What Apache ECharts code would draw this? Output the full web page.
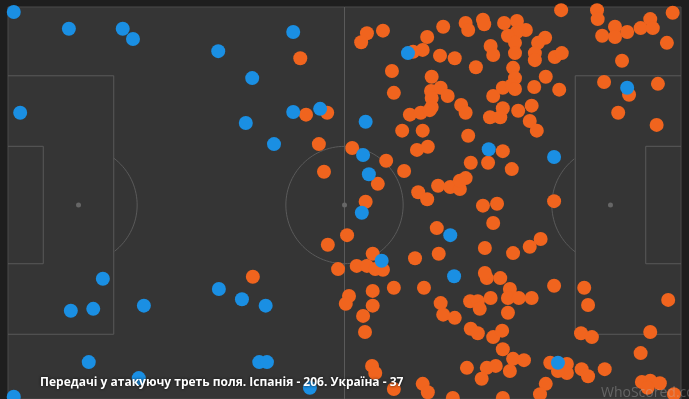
<!DOCTYPE html>
<html>
<head>
<meta charset="utf-8">
<script src="https://cdn.jsdelivr.net/npm/echarts@6/dist/echarts.min.js"></script>
<style>
  html, body { margin: 0; padding: 0; background: #1e1e1e; }
  #main { width: 689px; height: 399px; }
</style>
</head>
<body>
<div id="main"></div>
<script>
// координати у метрах, поле 105 x 68
const spainPasses = [
  [45.6,11.1],[46.5,19.9],[48.5,24.5],[49.3,28.8],[38.2,45.2],
  [56.0,7.2],[55.1,8.6],[58.5,6.8],[65.4,7.8],[67.9,6.2],[71.4,5.6],[71.8,6.7],[74.1,5.1],[74.3,5.8],[77.4,5.6],
  [75.3,9.2],[75.7,10.6],[64.7,9.8],[63.2,10.1],[67.4,10.7],[69.7,11.1],[73.0,12.5],[59.9,13.1],[66.1,14.0],
  [60.2,16.5],[66.0,16.2],[67.5,15.7],[68.6,17.0],[66.1,17.3],[66.1,18.7],[62.7,19.9],[64.4,19.6],[65.8,19.2],
  [70.7,18.4],[71.4,19.6],[75.7,17.0],[77.2,15.7],[77.2,18.9],[75.2,20.3],[76.8,20.3],[49.8,19.6],[61.5,22.4],
  [64.7,22.4],[71.8,23.2],
  [86.3,3.6],[91.9,3.6],[92.0,5.0],[103.7,4.0],[79.4,5.3],[80.8,6.7],[79.4,7.0],[78.0,7.6],[79.1,8.7],[79.1,10.3],
  [83.8,7.9],[82.7,8.7],[82.2,10.3],[82.2,11.4],[85.3,10.9],[86.4,10.3],[92.7,7.6],[94.7,6.2],[94.7,7.8],[96.6,7.0],
  [98.7,6.4],[100.2,5.0],[100.6,6.4],[102.8,8.7],[95.8,11.5],[78.8,12.6],[79.1,14.2],[78.6,15.3],[79.1,15.9],
  [83.9,14.0],[82.1,15.6],[86.0,16.0],[93.0,14.8],[96.9,16.8],[101.4,15.1],[95.2,19.6],[101.2,21.5],[81.7,18.5],
  [79.6,19.3],[81.4,20.9],[82.5,22.4],
  [53.7,25.1],[63.8,25.4],[65.5,24.9],[59.0,27.1],[61.8,28.7],[57.7,30.7],[72.2,27.4],[74.9,27.4],[77.2,25.6],
  [67.1,31.0],[69.0,31.2],[70.5,31.5],[70.5,30.2],[71.4,29.8],[64.0,32.0],[65.4,33.1],[55.8,33.5],[74.1,34.1],
  [76.3,33.8],[75.7,36.8],[66.9,37.6],[52.9,38.7],[49.9,40.2],[74.4,40.7],[67.2,41.6],[56.9,41.6],[63.5,42.3],
  [54.4,43.5],[56.0,43.5],[51.5,44.0],
  [78.6,28.4],[85.2,33.4],[78.8,41.5],[81.4,40.5],[83.1,39.3],
  [57.3,44.0],[58.5,44.1],[60.2,46.9],[64.9,46.9],[56.9,47.4],[53.2,48.2],[52.7,49.4],[56.9,49.7],[55.4,51.3],
  [55.7,53.8],[56.8,59.1],[57.3,60.2],[60.2,62.7],[67.5,49.3],[67.9,51.1],[69.7,51.6],[72.1,49.0],[73.3,49.0],
  [73.6,50.2],[75.3,48.5],[74.7,45.4],[74.4,44.6],[76.8,45.4],[72.2,53.3],[73.3,54.0],[75.7,54.6],[77.1,53.6],
  [71.6,59.4],[74.7,59.4],[76.1,59.1],[73.9,61.1],[64.7,61.9],[65.5,63.2],[69.4,64.1],[74.1,64.3],[77.2,64.1],
  [77.2,56.5],
  [78.3,47.1],[78.0,48.5],[79.7,48.5],[81.7,48.5],[85.2,46.6],[89.9,46.9],[90.5,49.6],[78.0,50.8],[89.4,54.0],
  [91.1,54.6],[103.0,48.8],[100.2,53.8],[98.7,57.1],[78.8,58.0],[80.5,58.2],[78.3,59.9],[84.6,58.6],[87.2,58.8],
  [87.2,60.2],[85.8,59.9],[89.5,59.6],[90.5,60.7],[93.1,59.6],[83.9,61.9],[83.0,63.5],[98.9,61.6],[100.2,61.4],
  [101.7,61.8],[99.8,62.5],[103.9,63.5]
];

const ukrainePasses = [
  [0.9,3.9],[9.5,6.5],[17.9,6.5],[19.5,8.1],[32.8,10.0],[44.5,7.0],[38.1,14.2],[1.9,19.6],[44.5,19.5],
  [48.7,19.0],[37.1,21.2],[41.5,24.5],[14.8,45.5],[9.8,50.5],[13.3,50.2],[21.2,49.7],[32.9,47.1],[36.5,48.7],
  [40.2,49.7],[12.6,58.5],[39.2,58.5],[40.4,58.5],[20.4,61.0],[0.9,63.9],[47.1,62.5],[62.4,10.3],[55.8,21.0],
  [55.4,26.2],[56.3,29.2],[55.2,35.2],[69.0,38.7],[75.0,25.3],[58.3,42.7],[85.2,26.5],[96.6,15.7],[69.6,45.1],
  [85.8,58.6]
];

const titleText = 'Передачі у атакуючу треть поля. Іспанія - 206. Україна - 37';

// розмітка поля
function arc(cx, cy, r, from, to) {
  const pts = [];
  for (let a = from; a <= to + 0.001; a += 3) {
    const t = a * Math.PI / 180;
    pts.push([cx + r * Math.cos(t), cy + r * Math.sin(t)]);
  }
  return pts;
}
const dAngle = Math.acos(5.5 / 9.15) * 180 / Math.PI;
const pitchLines = [
  [[52.5, 3.11], [52.5, 64.26]],
  [[0, 13.84], [16.5, 13.84], [16.5, 54.16], [0, 54.16]],
  [[0, 24.84], [5.5, 24.84], [5.5, 43.16], [0, 43.16]],
  [[105, 13.84], [88.5, 13.84], [88.5, 54.16], [105, 54.16]],
  [[105, 24.84], [99.5, 24.84], [99.5, 43.16], [105, 43.16]],
  arc(52.5, 34, 9.15, 0, 360),
  arc(11, 34, 9.15, -dAngle, dAngle),
  arc(94, 34, 9.15, 180 - dAngle, 180 + dAngle)
];
const spots = [[11, 34], [52.5, 34], [94, 34]];

var myChart = echarts.init(document.getElementById('main'));

myChart.setOption({
  backgroundColor: '#1e1e1e',
  animation: false,
  title: [
    {
      text: titleText,
      left: 40,
      top: 377,
      padding: 0,
      textStyle: {
        color: '#ffffff',
        fontSize: 12,
        fontWeight: 'bold',
        fontFamily: 'Open Sans',
        textShadowColor: 'rgba(0,0,0,0.8)',
        textShadowBlur: 3
      }
    },
    {
      text: 'WhoScored.com',
      left: 596,
      top: 381,
      textStyle: {
        color: 'rgba(190,190,190,0.35)',
        fontSize: 14,
        fontWeight: 'normal',
        fontFamily: 'Open Sans'
      }
    }
  ],
  grid: {
    left: 8,
    top: 7,
    width: 673,
    height: 392,
    show: true,
    backgroundColor: '#353535',
    borderColor: '#4a4a4a',
    borderWidth: 1
  },
  xAxis: { type: 'value', min: 0, max: 105, show: false },
  yAxis: { type: 'value', min: 3.11, max: 64.26, inverse: true, show: false },
  series: [
    {
      type: 'lines',
      coordinateSystem: 'cartesian2d',
      polyline: true,
      silent: true,
      lineStyle: { color: '#5a5a5a', width: 1, opacity: 1 },
      data: pitchLines.map(p => ({ coords: p }))
    },
    {
      type: 'scatter',
      symbolSize: 5,
      silent: true,
      itemStyle: { color: '#666666', opacity: 1 },
      data: spots
    },
    {
      name: 'Іспанія',
      type: 'scatter',
      symbolSize: 14,
      itemStyle: { color: '#f0641e', opacity: 1 },
      data: spainPasses
    },
    {
      name: 'Україна',
      type: 'scatter',
      symbolSize: 14,
      itemStyle: { color: '#1a8fe3', opacity: 1 },
      data: ukrainePasses
    }
  ]
});
</script>
</body>
</html>
